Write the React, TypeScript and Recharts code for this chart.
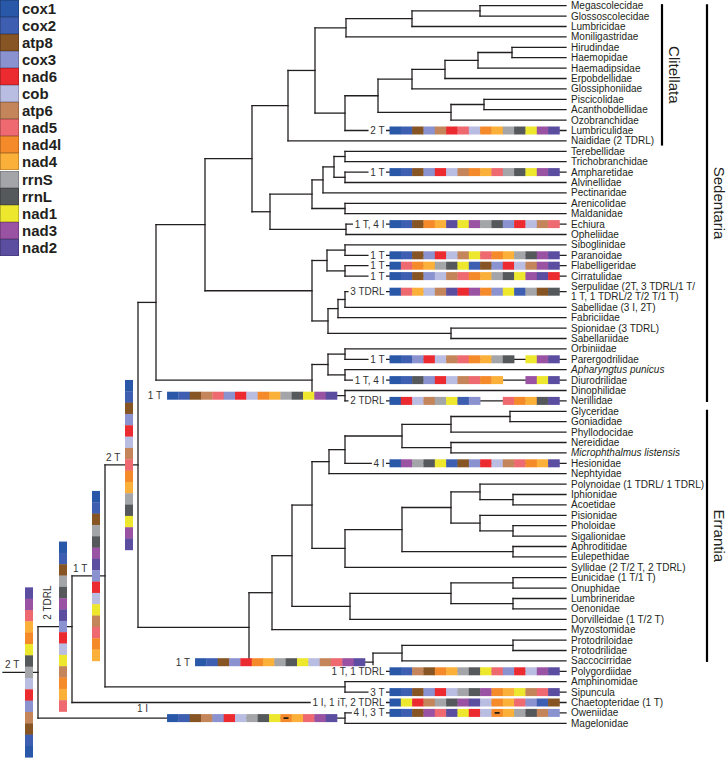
import React from "react";
import { ComposedChart, XAxis, YAxis, Scatter, ReferenceLine } from "recharts";

// gene key (legend order) and colours
const genes = ["cox1", "cox2", "atp8", "cox3", "nad6", "cob", "atp6", "nad5", "nad4l", "nad4", "rrnS", "rrnL", "nad1", "nad3", "nad2"];
const geneColors = ["#2a58a8", "#3e5fb1", "#875424", "#8a92cf", "#ec2b30", "#babde2", "#c4855a", "#ee6a70", "#f58a2b", "#fbb03a", "#a3a5a8", "#56595c", "#ede72e", "#9a52a3", "#5b4ea1"];

// taxa, top to bottom
const leaves = [
  "Megascolecidae", "Glossoscolecidae", "Lumbricidae", "Moniligastridae", "Hirudindae", "Haemopidae",
  "Haemadipsidae", "Erpobdellidae", "Glossiphoniidae", "Piscicolidae", "Acanthobdellidae", "Ozobranchidae",
  "Lumbriculidae", "Naididae (2 TDRL)", "Terebellidae", "Trichobranchidae", "Ampharetidae", "Alvinellidae",
  "Pectinaridae", "Arenicolidae", "Maldanidae", "Echiura", "Opheliidae", "Siboglinidae", "Paranoidae",
  "Flabelligeridae", "Cirratulidae", "Serpulidae (2T, 3 TDRL/1 T/\n1 T, 1 TDRL/2 T/2 T/1 T)",
  "Sabellidae (3 I, 2T)", "Fabriciidae", "Spionidae (3 TDRL)", "Sabellariidae", "Orbiniidae",
  "Parergodrilidae", "Apharyngtus punicus", "Diurodrilidae", "Dinophilidae", "Nerillidae", "Glyceridae",
  "Goniadidae", "Phyllodocidae", "Nereididae", "Microphthalmus listensis", "Hesionidae", "Nephtyidae",
  "Polynoidae (1 TDRL/ 1 TDRL)", "Iphionidae", "Acoetidae", "Pisionidae", "Pholoidae", "Sigalionidae",
  "Aphroditidae", "Eulepethidae", "Syllidae (2 T/2 T, 2 TDRL)", "Eunicidae (1 T/1 T)", "Onuphidae",
  "Lumbrineridae", "Oenonidae", "Dorvilleidae (1 T/2 T)", "Myzostomidae", "Protodriloidae", "Protodrilidae",
  "Saccocirridae", "Polygordiidae", "Amphinomidae", "Sipuncula", "Chaetopteridae (1 T)", "Oweniidae", "Magelonidae",
];
const italicLeaves = ["Apharyngtus punicus", "Microphthalmus listensis"];

// gene orders ("-" = missing slot, "*" = marked gene)
const lumbriculidaeOrder = "cox1 cox2 atp8 cox3 atp6 nad6 nad5 cob nad4l nad4 rrnS rrnL nad1 nad3 nad2";
const ampharetidaeOrder = "cox1 cox2 atp8 cox3 nad6 cob atp6 nad4l nad4 nad5 rrnS rrnL nad1 nad3 nad2";
const echiuraOrder = "cox1 cox2 atp8 nad4l nad4 nad2 nad1 nad3 rrnS rrnL cox3 nad6 cob atp6 nad5";
const paranoidaeOrder = "cox1 cox2 atp8 cox3 nad6 cob atp6 nad1 nad5 nad4l nad4 rrnS rrnL nad3 nad2";
const flabelligeridaeOrder = "cox1 nad5 nad4l nad4 rrnS rrnL nad1 cox2 atp8 cox3 nad6 cob atp6 nad3 nad2";
const cirratulidaeOrder = "cox1 cox2 atp8 cox3 cob atp6 nad5 nad4l nad4 rrnS rrnL nad1 nad3 nad2 nad6";
const serpulidaeOrder = "cox1 nad5 nad4 cob atp6 nad2 nad6 nad3 nad4l cox3 nad1 cox2 rrnS atp8 rrnL";
const parergodrilidaeOrder = "cox1 cox2 cox3 nad6 cob atp6 nad5 nad4l nad4 rrnS rrnL - nad1 nad3 nad2";
const diurodrilidaeOrder = "cox1 cox2 rrnL cox3 nad6 cob atp6 nad5 nad4l nad4 - - nad3 nad1 nad2";
const nerillidaeOrder = "cox1 nad6 cob atp6 rrnS nad1 cox2 cox3 - - nad5 nad4l nad4 rrnL nad2";
const dinophilidBranchOrder = "cox1 cox2 atp8 atp6 nad5 cox3 nad6 cob nad4l nad4 rrnS rrnL nad1 nad3 nad2";
const hesionidaeOrder = "cox1 nad3 rrnS rrnL nad1 cox2 atp8 cox3 nad6 cob atp6 nad5 nad4l nad4 nad2";
const protodrilidBranchOrder = "cox1 cox2 atp8 cox3 nad6 nad4l nad4 rrnS rrnL nad1 cob atp6 nad5 nad3 nad2";
const polygordiidaeOrder = "cox1 cox2 atp6 atp8 nad4l nad4 rrnS rrnL nad1 nad5 cox3 nad6 cob nad3 nad2";
const sipunculaOrder = "cox1 cox2 atp8 cox3 nad6 cob rrnS rrnL nad3 nad4l nad4 nad1 atp6 nad5 nad2";
const chaetopteridaeOrder = "cox1 nad1 nad6 atp6 rrnS rrnL nad3 nad2 cob nad4l nad4 nad5 cox3 cox2 atp8";
const oweniidaeOrder = "cox1 cox2 atp8 nad3 nad5 nad2 nad1 nad6 cob nad4l* nad4 rrnS rrnL atp6 cox3";
const oweniidBranchOrder = "cox1 cox2 atp8 atp6 cox3 nad6 cob rrnS rrnL nad1 nad4l* nad4 nad5 nad3 nad2";
// vertical bars, read top to bottom
const rootOrder = "nad2 nad3 nad5 nad4 nad4l nad1 rrnL rrnS cob nad6 cox3 atp6 atp8 cox2 cox1";
const stem1Order = "cox1 cox2 atp8 rrnS rrnL nad3 nad2 cox3 nad6 cob nad1 atp6 nad4l nad4 nad5";
const stem2Order = "cox1 cox2 atp8 rrnS rrnL nad3 nad2 cox3 nad6 cob nad1 atp6 nad5 nad4l nad4";
const stem3Order = "cox1 cox2 atp8 cox3 nad6 cob atp6 nad5 nad4l nad4 rrnS rrnL nad1 nad3 nad2";

// tree: node depth (x) and children
type Tree = { x: number; kids: (Tree | string)[]; id?: string; at?: number };
const n = (x: number, ...kids: (Tree | string)[]): Tree => ({ x, kids });
const tag = (id: string, t: Tree, at?: number): Tree => ({ ...t, id, at });

const clitellata = n(288,
  n(315,
    n(346, n(412, n(480, "Megascolecidae", "Glossoscolecidae"), "Lumbricidae"), "Moniligastridae"),
    n(345,
      n(378,
        n(412, n(445, n(478, n(512, "Hirudindae", "Haemopidae"), "Haemadipsidae"), "Erpobdellidae"), "Glossiphoniidae"),
        n(451, n(484, "Piscicolidae", "Acanthobdellidae"), "Ozobranchidae")),
      "Lumbriculidae")),
  "Naididae");
const terebellida = n(312,
  n(323, n(334, n(345, "Terebellidae", "Trichobranchidae"), n(345, "Ampharetidae", "Alvinellidae")), "Pectinaridae"),
  n(345, "Arenicolidae", "Maldanidae"));
const echiuraGroup = n(346, "Echiura", "Opheliidae");
const sabellida = n(312,
  n(327, n(345, "Siboglinidae", "Paranoidae"), n(345, "Flabelligeridae", "Cirratulidae")),
  n(328, n(338, n(345, "Serpulidae", "Sabellidae"), "Fabriciidae"), n(451, "Spionidae", "Sabellariidae")));
const orbiniida = n(312,
  n(328, n(345, "Orbiniidae", "Parergodrilidae"), n(345, "Apharyngtus punicus", "Diurodrilidae")),
  tag("M1", n(345, "Dinophilidae", "Nerillidae")));
const phyllodocida = n(312,
  n(329, n(345, n(402, n(451, n(510, "Glyceridae", "Goniadidae"), "Phyllodocidae"), n(451, "Nereididae", "Microphthalmus listensis")), "Hesionidae"), "Nephtyidae"),
  n(345, n(402, n(451, n(480, "Polynoidae", n(513, "Iphionidae", "Acoetidae")), n(480, "Pisionidae", n(513, "Pholoidae", "Sigalionidae"))), n(513, "Aphroditidae", "Eulepethidae")), "Syllidae"));
const eunicida = n(350, n(451, n(513, "Eunicidae", "Onuphidae"), n(513, "Lumbrineridae", "Oenonidae")), "Dorvilleidae");
const errantia = n(272, n(292, phyllodocida, eunicida), "Myzostomidae");
const protodrilida = tag("P2", n(373, n(402, n(513, "Protodriloidae", "Protodrilidae"), "Saccocirridae"), "Polygordiidae"));

const tree = tag("R0", n(38,
  tag("R1", n(72,
    tag("R2", n(105,
      tag("R3", n(138,
        n(156, n(205, n(252, clitellata, n(270, terebellida, echiuraGroup)), sabellida), orbiniida),
        n(249, errantia, protodrilida))),
      n(345, "Amphinomidae", "Sipuncula"))),
    "Chaetopteridae"), 0.4),
  tag("O", n(345, "Oweniidae", "Magelonidae"))));

const leafBars = [
  { leaf: "Lumbriculidae", order: lumbriculidaeOrder, note: "2 T" },
  { leaf: "Ampharetidae", order: ampharetidaeOrder, note: "1 T" },
  { leaf: "Echiura", order: echiuraOrder, note: "1 T, 4 I" },
  { leaf: "Paranoidae", order: paranoidaeOrder, note: "1 T" },
  { leaf: "Flabelligeridae", order: flabelligeridaeOrder, note: "1 T" },
  { leaf: "Cirratulidae", order: cirratulidaeOrder, note: "1 T" },
  { leaf: "Serpulidae", order: serpulidaeOrder, note: "3 TDRL" },
  { leaf: "Parergodrilidae", order: parergodrilidaeOrder, note: "1 T" },
  { leaf: "Diurodrilidae", order: diurodrilidaeOrder, note: "1 T, 4 I" },
  { leaf: "Nerillidae", order: nerillidaeOrder, note: "2 TDRL" },
  { leaf: "Hesionidae", order: hesionidaeOrder, note: "4 I" },
  { leaf: "Polygordiidae", order: polygordiidaeOrder, note: "1 T, 1 TDRL" },
  { leaf: "Sipuncula", order: sipunculaOrder, note: "3 T" },
  { leaf: "Chaetopteridae", order: chaetopteridaeOrder, note: "1 I, 1 iT, 2 TDRL" },
  { leaf: "Oweniidae", order: oweniidaeOrder, note: "4 I, 3 T" },
];
const branchBars = [
  { node: "M1", order: dinophilidBranchOrder, note: "1 T" },
  { node: "P2", order: protodrilidBranchOrder, note: "1 T" },
  { node: "O", order: oweniidBranchOrder, note: "" },
];
const stemBars = [
  { node: "R0", order: rootOrder },
  { node: "R1", order: stem1Order },
  { node: "R2", order: stem2Order },
  { node: "R3", order: stem3Order },
];
const stemNotes = [
  { node: "R0", text: "2 T" },
  { node: "R1", text: "2 TDRL" },
  { node: "R2", text: "1 T" },
  { node: "R3", text: "2 T" },
  { node: "O", text: "1 I" },
];
const clades = [
  { name: "Clitellata", from: "Megascolecidae", to: "Naididae", col: 0 },
  { name: "Sedentaria", from: "Megascolecidae", to: "Nerillidae", col: 1 },
  { name: "Errantia", from: "Glyceridae", to: "Saccocirridae", col: 1 },
];

// ---------- layout ----------
const W = 727;
const H = 759;
const ROW0 = 5.7;
const PITCH = 10.4;
const LEAF_END = 566;
const LABEL_X = 571;
const BAR_X = 389.5;
const CELL = 11.33;
const BAR_H = 8;
const INK = "#231f20";
const FONT = "'Liberation Sans', Arial, Helvetica, sans-serif";

const keyOf = (l: string) => l.split(" (")[0].split("\n")[0];
const rowOf: Record<string, number> = {};
let cursor = 0;
leaves.forEach((l) => {
  const rows = l.includes("\n") ? 2 : 1;
  rowOf[keyOf(l)] = cursor + (rows - 1) / 2;
  cursor += rows;
});

type Seg = { x1: number; y1: number; x2: number; y2: number };
const segs: Seg[] = [];
const nodeAt: Record<string, { x: number; y: number; px: number }> = {};
function place(t: Tree | string, parentX: number): number {
  if (typeof t === "string") {
    const y = rowOf[t];
    segs.push({ x1: parentX, y1: y, x2: LEAF_END, y2: y });
    return y;
  }
  const ys = t.kids.map((k) => place(k, t.x));
  const lo = ys[0];
  const hi = ys[ys.length - 1];
  const y = lo + (t.at ?? 0.5) * (hi - lo);
  segs.push({ x1: t.x, y1: lo, x2: t.x, y2: hi });
  segs.push({ x1: parentX, y1: y, x2: t.x, y2: y });
  if (t.id) nodeAt[t.id] = { x: t.x, y, px: parentX };
  return y;
}
place(tree, 3);

const yDomain = [-ROW0 / PITCH, (H - ROW0) / PITCH];

let ctx: CanvasRenderingContext2D | null = null;
function textW(s: string, font = `10px ${FONT}`) {
  if (!ctx && typeof document !== "undefined") ctx = document.createElement("canvas").getContext("2d");
  if (ctx) {
    ctx.font = font;
    return ctx.measureText(s).width;
  }
  return s.length * 5.5;
}
const colorOf = (g: string) => geneColors[genes.indexOf(g.replace("*", ""))];

const barPts = [
  ...leafBars.map((b) => ({ x: BAR_X, y: rowOf[b.leaf], order: b.order, note: b.note, dir: "h", align: "start" })),
  ...branchBars.map((b) => ({ x: nodeAt[b.node].x - 8, y: nodeAt[b.node].y, order: b.order, note: b.note, dir: "h", align: "end" })),
  ...stemBars.map((b) => ({ x: nodeAt[b.node].x - 13, y: nodeAt[b.node].y, order: b.order, note: "", dir: "v", align: "start" })),
];
const labelPts = leaves.map((l) => ({ x: LABEL_X, y: rowOf[keyOf(l)], label: l }));
const notePts = stemNotes.map((s) => ({ x: nodeAt[s.node].px, y: nodeAt[s.node].y, text: s.text, node: s.node }));
const cladePts = clades.map((c) => {
  const y1 = rowOf[c.from] - 0.15;
  const y2 = rowOf[c.to] + (c.col === 0 ? 0.45 : 0.1);
  return { x: c.col === 0 ? 662 : 707, y: (y1 + y2) / 2, y1, y2, name: c.name };
});

// ---------- shapes ----------
function GeneBar(props: any) {
  const { cx, cy, payload } = props;
  const cells: string[] = payload.order.split(" ");
  const els: React.ReactNode[] = [];
  if (payload.dir === "h") {
    const x0 = payload.align === "end" ? cx - cells.length * CELL : cx;
    if (payload.note) {
      const w = textW(payload.note);
      const tx = x0 - 5;
      els.push(<rect key="bg" x={tx - w - 1.5} y={cy - 6} width={w + 3} height={12} fill="#fff" />);
      els.push(
        <text key="t" x={tx} y={cy} dy="0.35em" textAnchor="end" fontSize={10} fontFamily={FONT} fill="#333">
          {payload.note}
        </text>
      );
    }
    cells.forEach((g, i) => {
      if (g === "-") return;
      els.push(<rect key={i} x={x0 + i * CELL} y={cy - BAR_H / 2} width={CELL + 0.3} height={BAR_H} fill={colorOf(g)} />);
      if (g.endsWith("*"))
        els.push(<rect key={"m" + i} x={x0 + i * CELL + CELL / 2 - 2.5} y={cy - 0.8} width={5} height={1.6} fill="#111" />);
    });
  } else {
    const y0 = cy - (cells.length * CELL) / 2;
    cells.forEach((g, i) => {
      els.push(<rect key={i} x={cx} y={y0 + i * CELL} width={BAR_H} height={CELL + 0.3} fill={colorOf(g)} />);
    });
  }
  return <g>{els}</g>;
}

function LeafLabel(props: any) {
  const { cx, cy, payload } = props;
  const lines: string[] = payload.label.split("\n");
  const italic = italicLeaves.includes(payload.label);
  return (
    <text fontSize={10} fontFamily={FONT} fill={INK} fontStyle={italic ? "italic" : "normal"}>
      {lines.map((ln, i) => (
        <tspan key={i} x={cx} y={cy + (i - (lines.length - 1) / 2) * 10.2} dy="0.35em">
          {ln}
        </tspan>
      ))}
    </text>
  );
}

function StemNote(props: any) {
  const { cx, cy, payload } = props;
  const common = { fontSize: 10, fontFamily: FONT, fill: "#333" };
  if (payload.node === "R1") {
    const x = cx + 9.5;
    const y = cy - 24;
    return (
      <text {...common} x={x} y={y} dy="0.35em" textAnchor="middle" transform={`rotate(-90 ${x} ${y})`}>
        {payload.text}
      </text>
    );
  }
  if (payload.node === "O") {
    return (
      <text {...common} x={cx + 99} y={cy - 6}>
        {payload.text}
      </text>
    );
  }
  return (
    <text {...common} x={cx + (payload.node === "R0" ? 2 : 1)} y={cy - 4}>
      {payload.text}
    </text>
  );
}

function CladeLabel(props: any) {
  const { cx, cy, payload } = props;
  const x = cx + 12;
  return (
    <text x={x} y={cy} dy="0.35em" textAnchor="middle" fontSize={15} fontFamily={FONT} fill={INK} transform={`rotate(90 ${x} ${cy})`}>
      {payload.name}
    </text>
  );
}

function GeneKey() {
  return (
    <div style={{ position: "absolute", left: 0, top: 0, fontFamily: FONT }}>
      {genes.map((g, i) => (
        <div key={g} style={{ position: "absolute", left: 0, top: i * 17.05, height: 17.05, display: "flex", alignItems: "center" }}>
          <div style={{ width: 19, height: 17.05, background: geneColors[i], boxShadow: "inset 0 0 0 0.6px rgba(0,0,0,0.35)" }} />
          <div style={{ marginLeft: 3, fontSize: 15, fontWeight: "bold", color: INK, lineHeight: "17px" }}>{g}</div>
        </div>
      ))}
    </div>
  );
}

export default function App() {
  return (
    <div style={{ position: "absolute", left: 0, top: 0, width: W, height: H, background: "#fff" }}>
      <ComposedChart width={W} height={H} margin={{ top: 0, right: 0, bottom: 0, left: 0 }}>
        <XAxis type="number" dataKey="x" domain={[0, W]} hide allowDataOverflow />
        <YAxis type="number" dataKey="y" domain={yDomain} reversed hide allowDataOverflow />
        {segs.map((s, i) => (
          <ReferenceLine
            key={"s" + i}
            segment={[{ x: s.x1, y: s.y1 }, { x: s.x2, y: s.y2 }]}
            stroke={INK}
            strokeWidth={1.3}
            strokeLinecap="square"
            ifOverflow="visible"
          />
        ))}
        {cladePts.map((c) => (
          <ReferenceLine
            key={c.name}
            segment={[{ x: c.x, y: c.y1 }, { x: c.x, y: c.y2 }]}
            stroke="#000"
            strokeWidth={2.2}
            ifOverflow="visible"
          />
        ))}
        <Scatter data={labelPts} shape={LeafLabel} isAnimationActive={false} />
        <Scatter data={barPts} shape={GeneBar} isAnimationActive={false} />
        <Scatter data={notePts} shape={StemNote} isAnimationActive={false} />
        <Scatter data={cladePts} shape={CladeLabel} isAnimationActive={false} />
      </ComposedChart>
      <GeneKey />
    </div>
  );
}
